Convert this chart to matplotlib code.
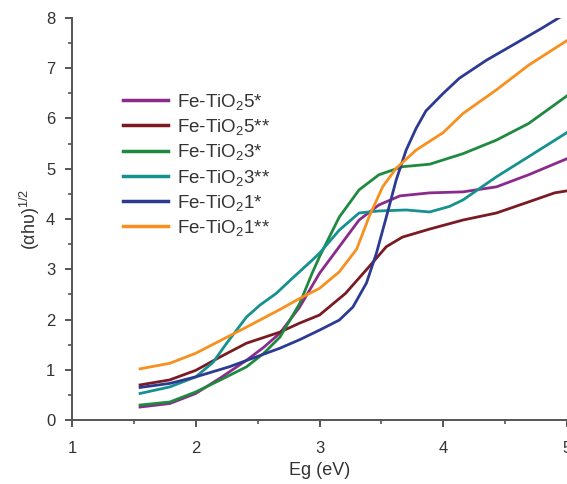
import matplotlib
matplotlib.use('Agg')
import matplotlib.pyplot as plt
from matplotlib.ticker import MultipleLocator

plt.rcParams['font.family'] = ['Liberation Sans', 'DejaVu Sans']
plt.rcParams['mathtext.fontset'] = 'custom'
plt.rcParams['mathtext.rm'] = 'Liberation Sans'
plt.rcParams['mathtext.it'] = 'Liberation Sans:italic'
plt.rcParams['mathtext.bf'] = 'Liberation Sans:bold'

# values
x_5s = [1.55, 1.79, 2.0, 2.2, 2.41, 2.55, 2.68, 2.84, 3.0, 3.16, 3.32, 3.48, 3.65, 3.89, 4.16, 4.43, 4.69, 5.0]
y_5s = [0.26, 0.33, 0.53, 0.84, 1.19, 1.45, 1.73, 2.25, 2.92, 3.45, 3.98, 4.28, 4.46, 4.52, 4.54, 4.64, 4.88, 5.2]

x_5ss = [1.55, 1.79, 2.0, 2.2, 2.41, 2.68, 2.84, 3.0, 3.21, 3.4, 3.54, 3.67, 3.89, 4.16, 4.43, 4.69, 4.9, 5.0]
y_5ss = [0.70, 0.80, 0.99, 1.26, 1.53, 1.75, 1.93, 2.09, 2.52, 3.05, 3.45, 3.64, 3.80, 3.98, 4.12, 4.34, 4.52, 4.56]

x_3s = [1.55, 1.79, 2.0, 2.2, 2.41, 2.55, 2.68, 2.84, 2.94, 3.0, 3.16, 3.32, 3.48, 3.67, 3.89, 4.16, 4.43, 4.69, 5.0]
y_3s = [0.30, 0.36, 0.56, 0.80, 1.06, 1.33, 1.65, 2.32, 2.92, 3.25, 4.04, 4.58, 4.88, 5.04, 5.09, 5.3, 5.57, 5.9, 6.45]

x_3ss = [1.55, 1.79, 2.0, 2.14, 2.25, 2.33, 2.41, 2.52, 2.65, 2.78, 2.94, 3.0, 3.16, 3.32, 3.48, 3.7, 3.89, 4.05, 4.16, 4.43, 4.69, 5.0]
y_3ss = [0.53, 0.66, 0.86, 1.15, 1.53, 1.79, 2.05, 2.29, 2.52, 2.82, 3.18, 3.32, 3.78, 4.12, 4.16, 4.18, 4.14, 4.25, 4.38, 4.84, 5.24, 5.72]

x_1s = [1.55, 1.79, 2.0, 2.27, 2.68, 2.84, 3.0, 3.16, 3.27, 3.38, 3.46, 3.54, 3.62, 3.70, 3.78, 3.86, 4.0, 4.13, 4.35, 4.59, 4.8, 5.0]
y_1s = [0.65, 0.73, 0.86, 1.06, 1.43, 1.6, 1.79, 1.99, 2.25, 2.73, 3.32, 4.04, 4.78, 5.37, 5.8, 6.15, 6.5, 6.8, 7.16, 7.5, 7.8, 8.1]

x_1ss = [1.55, 1.79, 2.0, 2.41, 2.68, 2.84, 3.0, 3.16, 3.3, 3.4, 3.51, 3.62, 3.78, 4.0, 4.16, 4.43, 4.69, 5.0]
y_1ss = [1.02, 1.13, 1.33, 1.85, 2.2, 2.42, 2.62, 2.95, 3.4, 4.04, 4.64, 5.01, 5.37, 5.72, 6.1, 6.57, 7.06, 7.55]

labels = [r'Fe-TiO$_2$5*', r'Fe-TiO$_2$5**', r'Fe-TiO$_2$3*',
          r'Fe-TiO$_2$3**', r'Fe-TiO$_2$1*', r'Fe-TiO$_2$1**']
colors = ['#8a2b8c', '#7a1a22', '#1f8a3f', '#15918f', '#2d3a92', '#f7901e']

series = [(x_5s, y_5s), (x_5ss, y_5ss), (x_3s, y_3s),
          (x_3ss, y_3ss), (x_1s, y_1s), (x_1ss, y_1ss)]

fig = plt.figure(figsize=(5.67, 4.84), dpi=100)
ax = fig.add_axes([0.127, 0.132, 0.873, 0.831])

for (xs, ys), lab, c in zip(series, labels, colors):
    ax.plot(xs, ys, color=c, lw=2.0, label=lab, solid_joinstyle='round')

ax.set_xlim(1, 5)
ax.set_ylim(0, 8)
ax.xaxis.set_major_locator(MultipleLocator(1))
ax.xaxis.set_minor_locator(MultipleLocator(0.5))
ax.yaxis.set_major_locator(MultipleLocator(1))
ax.yaxis.set_minor_locator(MultipleLocator(0.5))

axcol = '#555555'
for s in ['top', 'right']:
    ax.spines[s].set_visible(False)
for s in ['left', 'bottom']:
    ax.spines[s].set_color(axcol)
    ax.spines[s].set_linewidth(1.4)
ax.tick_params(which='major', direction='out', length=5, width=1.4, color=axcol,
               labelsize=12, labelcolor='#333333', pad=7)
ax.tick_params(axis='x', which='major', pad=10)
ax.tick_params(which='minor', direction='out', length=3, width=1.2, color=axcol)

ax.set_xlabel('Eg (eV)', fontsize=13, color='#333333', labelpad=4)
ax.set_ylabel(r'(αhυ)$^{1/2}$', fontsize=13, color='#333333', labelpad=3)

leg = ax.legend(loc='upper left', bbox_to_anchor=(0.088, 0.835), frameon=False,
                fontsize=13.5, handlelength=2.4, handletextpad=0.5,
                labelspacing=0.28, labelcolor='#333333', borderaxespad=0)
for line in leg.get_lines():
    line.set_linewidth(2.5)

fig.savefig('out.png', dpi=100)
